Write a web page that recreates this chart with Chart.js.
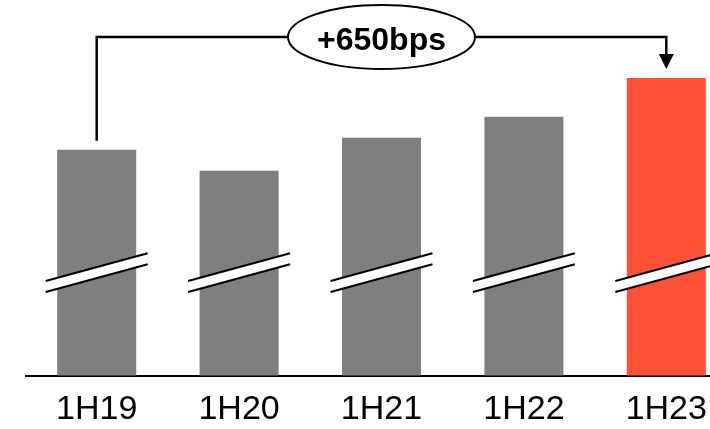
<!DOCTYPE html>
<html>
<head>
<meta charset="utf-8">
<script src="https://cdn.jsdelivr.net/npm/chart.js@4.4.1/dist/chart.umd.min.js"></script>
<style>
  html, body { margin: 0; padding: 0; background: #ffffff; overflow: hidden; }
  #wrap { width: 745px; height: 429px; }
</style>
</head>
<body>
<div id="wrap"><canvas id="c" width="745" height="429"></canvas></div>
<script>
// Half-year periods and margin (%) per period
const periods = ['1H19', '1H20', '1H21', '1H22', '1H23'];
const margins = [30.0, 28.1, 31.1, 33.0, 36.5];
const barColors = ['#7f7f7f', '#7f7f7f', '#7f7f7f', '#7f7f7f', '#ff5136'];

// Visible window of the (broken) value axis
const axisMin = 9.6;
const axisMax = 40.2;
// Value at which the axis-break marks cut through the bars
const breakValue = 18.9;

// Change between first and last period, in basis points
const changeBps = Math.round((margins[margins.length - 1] - margins[0]) * 100);
const changeLabel = (changeBps >= 0 ? '+' : '') + changeBps + 'bps';

const decorations = {
  id: 'decorations',
  afterDatasetsDraw(chart) {
    const ctx = chart.ctx;
    const bars = chart.getDatasetMeta(0).data;
    const y = chart.scales.y;

    // Axis-break marks: white band between two slanted black strokes
    const yc = y.getPixelForValue(breakValue);
    const slope = 0.272;
    const gap = 11;
    bars.forEach(b => {
      const ext = b.width * 0.145;
      const x0 = b.x - b.width / 2 - ext;
      const x1 = b.x + b.width / 2 + ext;
      const yAt = (x, off) => yc + off - slope * (x - b.x);
      ctx.save();
      ctx.beginPath();
      ctx.moveTo(x0, yAt(x0, -gap / 2));
      ctx.lineTo(x1, yAt(x1, -gap / 2));
      ctx.lineTo(x1, yAt(x1, gap / 2));
      ctx.lineTo(x0, yAt(x0, gap / 2));
      ctx.closePath();
      ctx.fillStyle = '#ffffff';
      ctx.fill();
      ctx.strokeStyle = '#000000';
      ctx.lineWidth = 2;
      ctx.beginPath();
      ctx.moveTo(x0, yAt(x0, -gap / 2));
      ctx.lineTo(x1, yAt(x1, -gap / 2));
      ctx.moveTo(x0, yAt(x0, gap / 2));
      ctx.lineTo(x1, yAt(x1, gap / 2));
      ctx.stroke();
      ctx.restore();
    });

    // Bracket connector from first to last bar
    const first = bars[0];
    const last = bars[bars.length - 1];
    const lineY = chart.chartArea.top;
    const startY = first.y - 9;
    const tipY = last.y - 9;
    const headH = 15, headW = 15;

    ctx.save();
    ctx.strokeStyle = '#000000';
    ctx.lineWidth = 2.5;
    ctx.lineJoin = 'miter';
    ctx.beginPath();
    ctx.moveTo(first.x, startY);
    ctx.lineTo(first.x, lineY);
    ctx.lineTo(last.x, lineY);
    ctx.lineTo(last.x, tipY - headH);
    ctx.stroke();

    ctx.fillStyle = '#000000';
    ctx.beginPath();
    ctx.moveTo(last.x - headW / 2, tipY - headH);
    ctx.lineTo(last.x + headW / 2, tipY - headH);
    ctx.lineTo(last.x, tipY);
    ctx.closePath();
    ctx.fill();

    // Ellipse callout with the change label
    const cx = (first.x + last.x) / 2;
    ctx.beginPath();
    ctx.ellipse(cx, lineY, 93.5, 32, 0, 0, Math.PI * 2);
    ctx.fillStyle = '#ffffff';
    ctx.fill();
    ctx.lineWidth = 2;
    ctx.stroke();

    ctx.fillStyle = '#000000';
    ctx.font = 'bold 32px "Liberation Sans", Arial, sans-serif';
    ctx.textAlign = 'center';
    ctx.textBaseline = 'alphabetic';
    ctx.fillText(changeLabel, cx, lineY + 13);
    ctx.restore();
  }
};

new Chart(document.getElementById('c'), {
  type: 'bar',
  data: {
    labels: periods,
    datasets: [{
      data: margins,
      backgroundColor: barColors,
      borderWidth: 0,
      categoryPercentage: 1,
      barPercentage: 0.555
    }]
  },
  options: {
    responsive: false,
    animation: false,
    layout: { padding: { left: 25.5, right: 7.5, top: 37, bottom: 0 } },
    plugins: {
      legend: { display: false },
      tooltip: { enabled: false }
    },
    scales: {
      x: {
        grid: { display: false },
        border: { display: true, color: '#000000', width: 2 },
        afterFit(scale) { scale.height = 53.5; },
        ticks: {
          color: '#000000',
          padding: 5.5,
          font: { family: '"Liberation Sans", Arial, sans-serif', size: 34 }
        }
      },
      y: {
        display: false,
        min: axisMin,
        max: axisMax
      }
    }
  },
  plugins: [decorations]
});
</script>
</body>
</html>
